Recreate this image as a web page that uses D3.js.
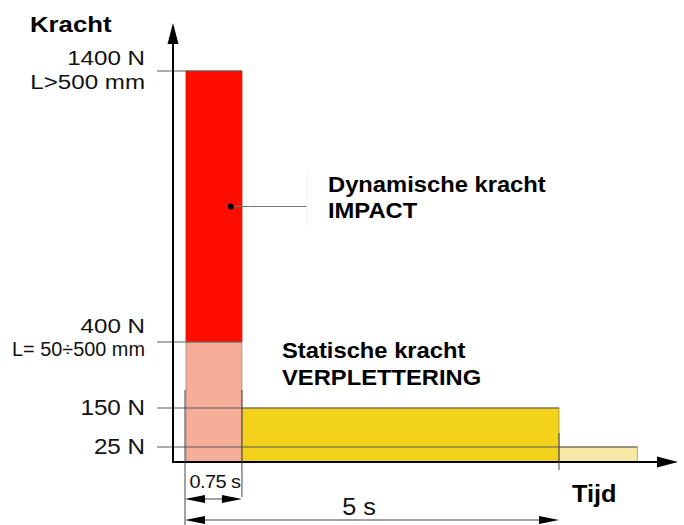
<!DOCTYPE html>
<html><head><meta charset="utf-8">
<script src="https://cdn.jsdelivr.net/npm/d3@7"></script>
<style>
html,body{margin:0;padding:0;background:#fff;}
svg{display:block;font-family:"Liberation Sans",Arial,Helvetica,sans-serif;}
</style></head>
<body>
<svg id="chart" width="684" height="525"></svg>
<script>
// ---- data ----
const forceTicks = [1400, 400, 150, 25];
const forceLabelTop = ["1400 N", "400 N", "150 N", "25 N"];
const forceLabelSub = ["L>500 mm", "L= 50÷500 mm", "", ""];
const barNames = ["IMPACT", "L=50÷500", "VERPLETTERING", "rest"];
const barStart = [0, 0, 0.75, 5];
const barEnd = [0.75, 0.75, 5, 6.05];
const barLow = [400, 0, 0, 0];
const barHigh = [1400, 400, 150, 25];
const barColors = ["#ff0e00", "#f6ae98", "#f2d21a", "#f6e9a3"];
const barStroke = ["#d01808", "#9a8a84", "#a89430", "#a89a60"];
const tickLineEnd = [0.75, 0.75, 5, 6.05];
const timeMarks = [0.75, 5];
const timeLabels = ["0.75 s", "5 s"];
const axisTitleY = "Kracht";
const axisTitleX = "Tijd";
const annotDyn = ["Dynamische kracht", "IMPACT"];
const annotStat = ["Statische kracht", "VERPLETTERING"];
const annotDotValue = {t: 0.6, f: 900};

// ---- scales ----
const x = d3.scaleLinear().domain([0, 5]).range([186, 559]);
const y = d3.scaleLinear().domain([0, 25, 150, 400, 1400]).range([462, 447, 408, 342, 71]);

const svg = d3.select("#chart");

// helper: text with horizontal stretch
function stext(parent, tx, ty, str, opts) {
  const o = Object.assign({size: 22, sx: 1, anchor: "start", weight: "normal", ls: 0}, opts || {});
  return parent.append("text")
    .attr("transform", `translate(${tx},${ty}) scale(${o.sx},1)`)
    .attr("font-size", o.size)
    .attr("font-weight", o.weight)
    .attr("text-anchor", o.anchor)
    .attr("letter-spacing", o.ls)
    .attr("fill", "#111")
    .text(str);
}

// bars
svg.append("g").selectAll("rect").data(barStart).join("rect")
  .attr("x", (d,i) => x(barStart[i]))
  .attr("y", (d,i) => y(barHigh[i]))
  .attr("width", (d,i) => x(barEnd[i]) - x(barStart[i]))
  .attr("height", (d,i) => y(barLow[i]) - y(barHigh[i]))
  .attr("fill", (d,i) => barColors[i])
  .attr("stroke", (d,i) => barStroke[i])
  .attr("stroke-width", 0.8);

// tick lines (drawn over bars)
const yAxisX = 173;
svg.append("g").selectAll("line").data(forceTicks).join("line")
  .attr("x1", 157).attr("x2", (d,i) => x(tickLineEnd[i]))
  .attr("y1", d => y(d)).attr("y2", d => y(d))
  .attr("stroke", "#5a5a5a").attr("stroke-width", 1);

// tick labels
const lab = svg.append("g");
forceTicks.forEach((v,i) => {
  if (forceLabelSub[i]) {
    const two = (i === 0);
    stext(lab, 145, y(v) - (two ? 6 : 9), forceLabelTop[i], {size: 21, sx: 1.15, anchor: "end"});
    stext(lab, 145, y(v) + (two ? 18 : 14), forceLabelSub[i], two ? {size: 21, sx: 1.15, anchor: "end"} : {size: 19.5, sx: 1.02, anchor: "end"});
  } else {
    stext(lab, 145, y(v) + 7, forceLabelTop[i], {size: 22, sx: 1.1, anchor: "end"});
  }
});

// axes
const ax = svg.append("g");
ax.append("line").attr("x1", yAxisX).attr("x2", yAxisX).attr("y1", 40).attr("y2", y(0))
  .attr("stroke", "#000").attr("stroke-width", 2);
ax.append("path").attr("d", `M${yAxisX},23 L${yAxisX-5.5},44 L${yAxisX+5.5},44 Z`).attr("fill", "#000");
ax.append("line").attr("x1", yAxisX-1).attr("x2", 660).attr("y1", y(0)).attr("y2", y(0))
  .attr("stroke", "#000").attr("stroke-width", 2);
ax.append("path").attr("d", `M678,${y(0)} L657,${y(0)-5.5} L657,${y(0)+5.5} Z`).attr("fill", "#000");

// axis titles
stext(svg, 30, 32, axisTitleY, {size: 23, sx: 1.12, weight: "bold"}).attr("fill", "#000");
stext(svg, 572, 502, axisTitleX, {size: 23, sx: 1.1, weight: "bold"}).attr("fill", "#000");

// dimension lines
const dim = svg.append("g").attr("stroke", "#444").attr("stroke-width", 1);
dim.append("line").attr("x1", x(0)-1).attr("x2", x(0)-1).attr("y1", 390).attr("y2", 525);
dim.append("line").attr("x1", x(0.75)).attr("x2", x(0.75)).attr("y1", 390).attr("y2", 497);
dim.append("line").attr("x1", x(5)).attr("x2", x(5)).attr("y1", 433).attr("y2", 470);

function dimArrow(x1, x2, yy) {
  svg.append("line").attr("x1", x1+15).attr("x2", x2-15).attr("y1", yy).attr("y2", yy)
    .attr("stroke", "#444").attr("stroke-width", 1);
  svg.append("path").attr("d", `M${x1},${yy} L${x1+20},${yy-4} L${x1+20},${yy+4} Z`).attr("fill", "#000");
  svg.append("path").attr("d", `M${x2},${yy} L${x2-20},${yy-4} L${x2-20},${yy+4} Z`).attr("fill", "#000");
}
dimArrow(x(0)-1, x(timeMarks[0]), 499);
dimArrow(x(0)-1, x(timeMarks[1]), 520);
stext(svg, (x(0)+x(timeMarks[0]))/2 + 1, 488, timeLabels[0], {size: 19, sx: 1.05, anchor: "middle", ls: -0.5});
stext(svg, 359, 515, timeLabels[1], {size: 23, sx: 1.1, anchor: "middle"});

// annotation: dynamic
svg.append("line").attr("x1", x(annotDotValue.t)).attr("x2", 307)
  .attr("y1", y(annotDotValue.f)).attr("y2", y(annotDotValue.f))
  .attr("stroke", "#777").attr("stroke-width", 1);
svg.append("line").attr("x1", 307).attr("x2", 307).attr("y1", 170).attr("y2", 227)
  .attr("stroke", "#f2f2f2").attr("stroke-width", 1);
svg.append("circle").attr("cx", x(annotDotValue.t)).attr("cy", y(annotDotValue.f)).attr("r", 3).attr("fill", "#000");

const ann = svg.append("g");
stext(ann, 328, 192, annotDyn[0], {size: 22, sx: 1.08, weight: "bold"}).attr("fill", "#000");
stext(ann, 328, 218, annotDyn[1], {size: 22, sx: 1.08, weight: "bold"}).attr("fill", "#000");
stext(ann, 282, 358, annotStat[0], {size: 22, sx: 1.08, weight: "bold"}).attr("fill", "#000");
stext(ann, 282, 385, annotStat[1], {size: 22, sx: 1.08, weight: "bold"}).attr("fill", "#000");
</script>
</body></html>
